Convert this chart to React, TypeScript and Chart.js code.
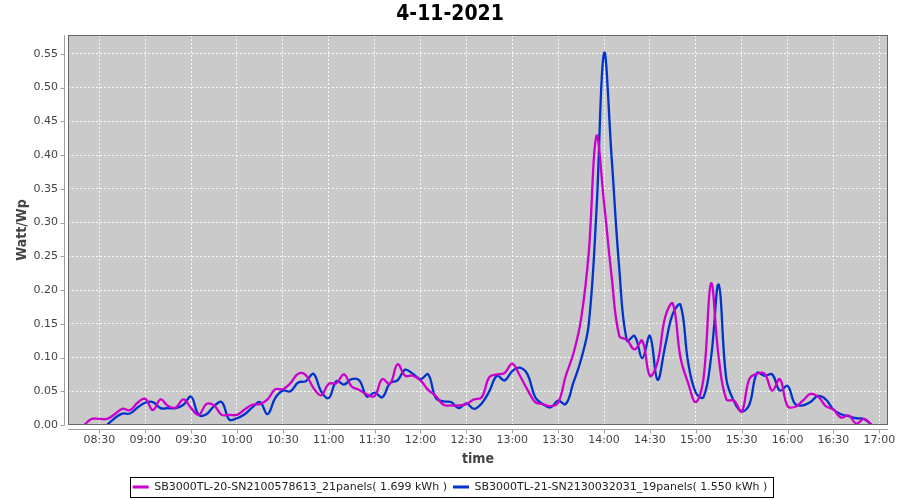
import React, { useEffect, useRef } from "react";
import { Chart, registerables } from "chart.js";

Chart.register(...registerables);

const TITLE = "4-11-2021";
const X_TITLE = "time";
const Y_TITLE = "Watt/Wp";

const TIMES = [
  "08:20", "08:25", "08:30", "08:35", "08:40", "08:45", "08:50", "08:55",
  "09:00", "09:05", "09:10", "09:15", "09:20", "09:25", "09:30", "09:35", "09:40", "09:45", "09:50", "09:55",
  "10:00", "10:05", "10:10", "10:15", "10:20", "10:25", "10:30", "10:35", "10:40", "10:45", "10:50", "10:55",
  "11:00", "11:05", "11:10", "11:15", "11:20", "11:25", "11:30", "11:35", "11:40", "11:45", "11:50", "11:55",
  "12:00", "12:05", "12:10", "12:15", "12:20", "12:25", "12:30", "12:35", "12:40", "12:45", "12:50", "12:55",
  "13:00", "13:05", "13:10", "13:15", "13:20", "13:25", "13:30", "13:35", "13:40", "13:45", "13:50", "13:55",
  "14:00", "14:05", "14:10", "14:15", "14:20", "14:25", "14:30", "14:35", "14:40", "14:45", "14:50", "14:55",
  "15:00", "15:05", "15:10", "15:15", "15:20", "15:25", "15:30", "15:35", "15:40", "15:45", "15:50", "15:55",
  "16:00", "16:05", "16:10", "16:15", "16:20", "16:25", "16:30", "16:35", "16:40", "16:45", "16:50", "16:55",
];

const SERIES_A_NAME = "SB3000TL-20-SN2100578613_21panels( 1.699 kWh )";
const SERIES_A = [
  0.000, 0.009, 0.009, 0.009, 0.016, 0.024, 0.022, 0.033,
  0.039, 0.022, 0.038, 0.028, 0.026, 0.038, 0.025, 0.015, 0.031, 0.029, 0.015, 0.015,
  0.015, 0.023, 0.030, 0.031, 0.038, 0.053, 0.053, 0.062, 0.076, 0.074, 0.055, 0.044,
  0.061, 0.062, 0.075, 0.057, 0.052, 0.045, 0.043, 0.068, 0.061, 0.090, 0.073, 0.073,
  0.066, 0.052, 0.043, 0.030, 0.029, 0.029, 0.031, 0.038, 0.041, 0.071, 0.075, 0.077,
  0.091, 0.073, 0.052, 0.034, 0.031, 0.028, 0.033, 0.073, 0.106, 0.157, 0.255, 0.428,
  0.330, 0.220, 0.132, 0.126, 0.112, 0.125, 0.073, 0.093, 0.160, 0.180, 0.100, 0.062,
  0.034, 0.068, 0.210, 0.100, 0.038, 0.036, 0.020, 0.068, 0.076, 0.076, 0.051, 0.068,
  0.028, 0.027, 0.036, 0.046, 0.042, 0.028, 0.023, 0.011, 0.014, 0.002, 0.009, 0.000,
];

const SERIES_B_NAME = "SB3000TL-21-SN2130032031_19panels( 1.550 kWh )";
const SERIES_B = [
  null, null, null, 0.000, 0.010, 0.017, 0.017, 0.026,
  0.033, 0.034, 0.025, 0.025, 0.025, 0.030, 0.042, 0.015, 0.016, 0.028, 0.034, 0.008,
  0.010, 0.016, 0.026, 0.034, 0.016, 0.040, 0.051, 0.050, 0.063, 0.065, 0.076, 0.050,
  0.040, 0.065, 0.060, 0.068, 0.066, 0.042, 0.048, 0.041, 0.062, 0.066, 0.082, 0.076,
  0.068, 0.075, 0.040, 0.035, 0.034, 0.025, 0.032, 0.024, 0.032, 0.050, 0.073, 0.066,
  0.080, 0.085, 0.075, 0.041, 0.031, 0.026, 0.036, 0.031, 0.063, 0.097, 0.149, 0.315,
  0.551, 0.396, 0.231, 0.125, 0.132, 0.099, 0.132, 0.067, 0.117, 0.165, 0.178, 0.093,
  0.048, 0.041, 0.100, 0.208, 0.068, 0.035, 0.020, 0.030, 0.077, 0.073, 0.075, 0.051,
  0.058, 0.031, 0.029, 0.034, 0.043, 0.038, 0.023, 0.016, 0.013, 0.010, 0.009, 0.000,
];

const X_TICKS = [
  "08:30", "09:00", "09:30", "10:00", "10:30", "11:00", "11:30", "12:00", "12:30",
  "13:00", "13:30", "14:00", "14:30", "15:00", "15:30", "16:00", "16:30", "17:00",
];
const Y_TICKS = [0.0, 0.05, 0.1, 0.15, 0.2, 0.25, 0.3, 0.35, 0.4, 0.45, 0.5, 0.55];

// axis ranges (minutes since midnight / Watt per Wp)
const X_RANGE = [489.5, 1025.7];
const Y_RANGE = [0, 0.578];

const COLOR_A = "#cc00cc";
const COLOR_B = "#0033cc";
const PLOT_BG = "#cacaca";
const GRID = "rgba(255,255,255,0.9)";
const FONT = "'DejaVu Sans', sans-serif";
const FONT_C = "'DejaVu Sans Condensed', 'DejaVu Sans', sans-serif";

const toMin = (t: string) => {
  const [h, m] = t.split(":").map(Number);
  return h * 60 + m;
};
const fmt = (v: number) => {
  const h = Math.floor(v / 60);
  const m = Math.round(v - h * 60);
  return String(h).padStart(2, "0") + ":" + String(m).padStart(2, "0");
};

const framePlugin = {
  id: "frame",
  beforeDraw(chart: any) {
    const { ctx, chartArea: a, width, height } = chart;
    ctx.save();
    ctx.fillStyle = "#ffffff";
    ctx.fillRect(0, 0, width, height);
    ctx.fillStyle = PLOT_BG;
    ctx.fillRect(a.left, a.top, a.right - a.left, a.bottom - a.top);
    ctx.restore();
  },
  afterDraw(chart: any) {
    const { ctx, chartArea: a, scales } = chart;
    ctx.save();
    ctx.lineWidth = 1;
    ctx.strokeStyle = "#666666";
    ctx.strokeRect(a.left + 0.5, a.top + 0.5, a.right - a.left - 1, a.bottom - a.top - 1);
    ctx.strokeStyle = "#a0a0a0";
    const yl = Math.round(a.left - 4) + 0.5;
    ctx.beginPath();
    ctx.moveTo(yl, a.top);
    ctx.lineTo(yl, a.bottom);
    for (const v of Y_TICKS) {
      const py = Math.round(scales.y.getPixelForValue(v)) + 0.5;
      ctx.moveTo(yl - 4, py);
      ctx.lineTo(yl, py);
    }
    const xb = Math.round(a.bottom + 4) + 0.5;
    ctx.moveTo(a.left, xb);
    ctx.lineTo(a.right, xb);
    for (const t of X_TICKS) {
      const px = Math.round(scales.x.getPixelForValue(toMin(t))) + 0.5;
      ctx.moveTo(px, xb);
      ctx.lineTo(px, xb + 4);
    }
    ctx.stroke();
    const hb = chart.legend && chart.legend.legendHitBoxes;
    if (hb && hb.length) {
      let l = Infinity, r = -Infinity, t = Infinity, b = -Infinity;
      for (const h of hb) {
        l = Math.min(l, h.left);
        r = Math.max(r, h.left + h.width);
        t = Math.min(t, h.top);
        b = Math.max(b, h.top + h.height);
      }
      ctx.strokeStyle = "#000000";
      ctx.strokeRect(Math.round(l - 3) + 0.5, Math.round(t - 5) + 0.5, Math.round(r - l + 8), Math.round(b - t + 9));
    }
    ctx.restore();
  },
};

export default function App() {
  const ref = useRef<HTMLCanvasElement | null>(null);

  useEffect(() => {
    document.body.style.margin = "0";
    const canvas = ref.current;
    if (!canvas) return;
    const xs = TIMES.map(toMin);
    const chart = new Chart(canvas, {
      type: "line",
      data: {
        datasets: [
          {
            label: SERIES_A_NAME,
            data: xs.map((x, i) => ({ x, y: SERIES_A[i] })),
            borderColor: COLOR_A,
            backgroundColor: COLOR_A,
            borderWidth: 2.3,
            pointRadius: 0,
            pointHoverRadius: 0,
            tension: 0.4,
            fill: false,
          },
          {
            label: SERIES_B_NAME,
            data: xs.map((x, i) => ({ x, y: SERIES_B[i] })),
            borderColor: COLOR_B,
            backgroundColor: COLOR_B,
            borderWidth: 2.3,
            pointRadius: 0,
            pointHoverRadius: 0,
            tension: 0.4,
            fill: false,
          },
        ],
      },
      options: {
        responsive: false,
        animation: false,
        events: [],
        layout: { padding: { left: 12, right: 12, top: 0, bottom: -2.5 } },
        scales: {
          x: {
            type: "linear",
            min: X_RANGE[0],
            max: X_RANGE[1],
            afterBuildTicks: (axis: any) => {
              axis.ticks = X_TICKS.map((t) => ({ value: toMin(t) }));
            },
            afterFit: (axis: any) => {
              axis.height = 50.5;
              axis.paddingLeft = 0;
              axis.paddingRight = 0;
            },
            ticks: {
              callback: (v: any) => fmt(Number(v)),
              font: { family: FONT, size: 11 },
              color: "#444444",
              padding: 9,
              autoSkip: false,
              maxRotation: 0,
            },
            grid: { color: GRID, lineWidth: 1, drawTicks: false, borderDash: [2, 2] } as any,
            border: { display: false, dash: [2, 2] },
            title: {
              display: true,
              text: X_TITLE,
              font: { family: FONT_C, size: 14, weight: "bold" },
              color: "#444444",
              padding: { top: 0, bottom: 8 },
            },
          },
          y: {
            type: "linear",
            min: Y_RANGE[0],
            max: Y_RANGE[1],
            afterBuildTicks: (axis: any) => {
              axis.ticks = Y_TICKS.map((v) => ({ value: v }));
            },
            afterFit: (axis: any) => {
              axis.width = 56;
              axis.paddingTop = 0;
              axis.paddingBottom = 0;
            },
            ticks: {
              callback: (v: any) => Number(v).toFixed(2),
              font: { family: FONT, size: 11 },
              color: "#444444",
              padding: 10,
            },
            grid: { color: GRID, lineWidth: 1, drawTicks: false, borderDash: [2, 2] } as any,
            border: { display: false, dash: [2, 2] },
            title: {
              display: true,
              text: Y_TITLE,
              font: { family: FONT_C, size: 14, weight: "bold" },
              color: "#444444",
              padding: { top: 2, bottom: 0 },
            },
          },
        },
        plugins: {
          title: {
            display: true,
            text: TITLE,
            font: { family: FONT_C, size: 21, weight: "bold" },
            color: "#000000",
            padding: { top: 2, bottom: 7.8 },
          },
          legend: {
            display: true,
            position: "bottom",
            labels: {
              font: { family: FONT, size: 11 },
              color: "#222222",
              boxWidth: 16,
              boxHeight: 3,
              padding: 6,
              generateLabels: (c: any) =>
                c.data.datasets.map((ds: any, i: number) => ({
                  text: ds.label,
                  fillStyle: ds.borderColor,
                  strokeStyle: ds.borderColor,
                  lineWidth: 0,
                  hidden: false,
                  datasetIndex: i,
                  fontColor: "#222222",
                })),
            },
          },
          tooltip: { enabled: false },
        },
      } as any,
      plugins: [framePlugin],
    });
    return () => chart.destroy();
  }, []);

  return (
    <div style={{ width: 900, height: 500 }}>
      <canvas ref={ref} width={900} height={500} style={{ display: "block", width: 900, height: 500 }} />
    </div>
  );
}
